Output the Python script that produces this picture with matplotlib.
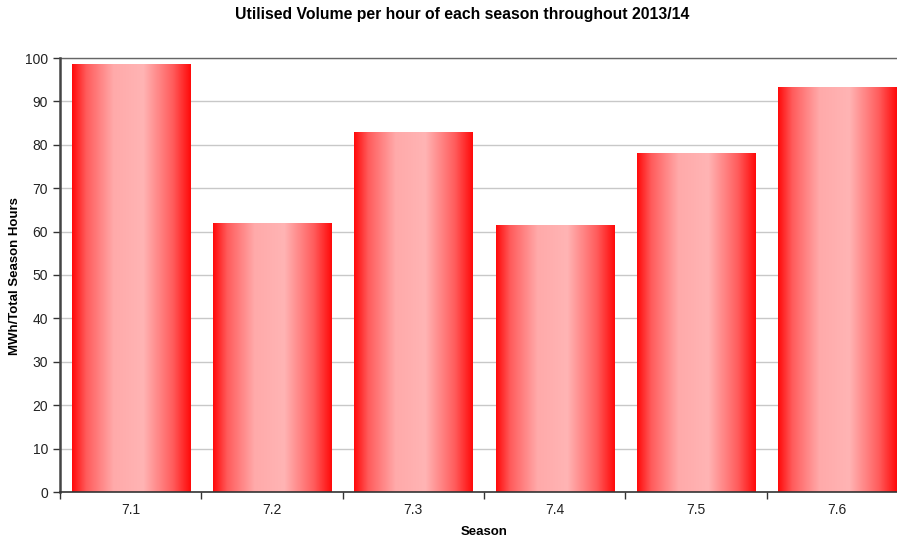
import numpy as np
import matplotlib.pyplot as plt
from matplotlib.colors import LinearSegmentedColormap

plt.rcParams['font.family'] = ['Liberation Sans', 'DejaVu Sans']

# Saisons und Werte (MWh / Gesamtstunden der Saison)
seasons = ['7.1', '7.2', '7.3', '7.4', '7.5', '7.6']
values = [98.4, 61.8, 82.9, 61.3, 77.9, 93.1]

# Farbverlauf der Balken: rot am Rand, rosa in der Mitte
bar_cmap = LinearSegmentedColormap.from_list(
    'bar_grad',
    [(0.0, '#ff0a0a'), (0.12, '#ff5c5c'), (0.35, '#ffaaaa'),
     (0.6, '#ffb4b4'), (0.85, '#ff5c5c'), (1.0, '#ff0a0a')])
grad = np.linspace(0, 1, 256).reshape(1, -1)

fig = plt.figure(figsize=(8.97, 5.39), dpi=100)
ax = fig.add_axes([60 / 897, 1 - 492 / 539, 848 / 897, 434 / 539])

x = np.arange(len(seasons))
bars = ax.bar(x, values, width=0.835, color='none', edgecolor='none', zorder=2)
for b in bars:
    x0, y0 = b.get_x(), b.get_y()
    ax.imshow(grad, cmap=bar_cmap, aspect='auto', zorder=2,
              extent=(x0, x0 + b.get_width(), y0, y0 + b.get_height()))

ax.set_xlim(-0.5, len(seasons) - 0.5)
ax.set_ylim(0, 100)
ax.set_yticks(np.arange(0, 101, 10))
ax.yaxis.grid(True, color='#c8c8c8', linewidth=1.0, zorder=0)
ax.set_axisbelow(True)
# obere Kante des Diagrammbereichs etwas dunkler
ax.axhline(100, color='#666666', linewidth=1.0, zorder=1, clip_on=False)

ax.set_xticks(x)
ax.set_xticklabels(seasons)
ax.set_xticks(np.arange(-0.5, len(seasons)), minor=True)
ax.tick_params(axis='x', which='major', length=0, pad=8, labelsize=10, colors='#222222')
ax.tick_params(axis='x', which='minor', length=5, width=1, color='#333333', direction='out')
ax.tick_params(axis='y', length=5, width=1, color='#333333', labelsize=10, labelcolor='#222222')

for side in ['top', 'right']:
    ax.spines[side].set_visible(False)
ax.spines['left'].set_linewidth(1.8)
ax.spines['left'].set_color('#444444')
ax.spines['bottom'].set_linewidth(1.2)
ax.spines['bottom'].set_color('#333333')

fig.text(484 / 897, 1 - 532 / 539, 'Season', ha='center', va='center',
         fontsize=9.5, fontweight='bold')
fig.text(15 / 897, 1 - 276 / 539, 'MWh/Total Season Hours', ha='center', va='center',
         rotation=90, fontsize=9.5, fontweight='bold')
fig.text(462 / 897, 1 - 14 / 539, 'Utilised Volume per hour of each season throughout 2013/14',
         ha='center', va='center', fontsize=11.3, fontweight='bold')

fig.savefig('out.png', dpi=100)
